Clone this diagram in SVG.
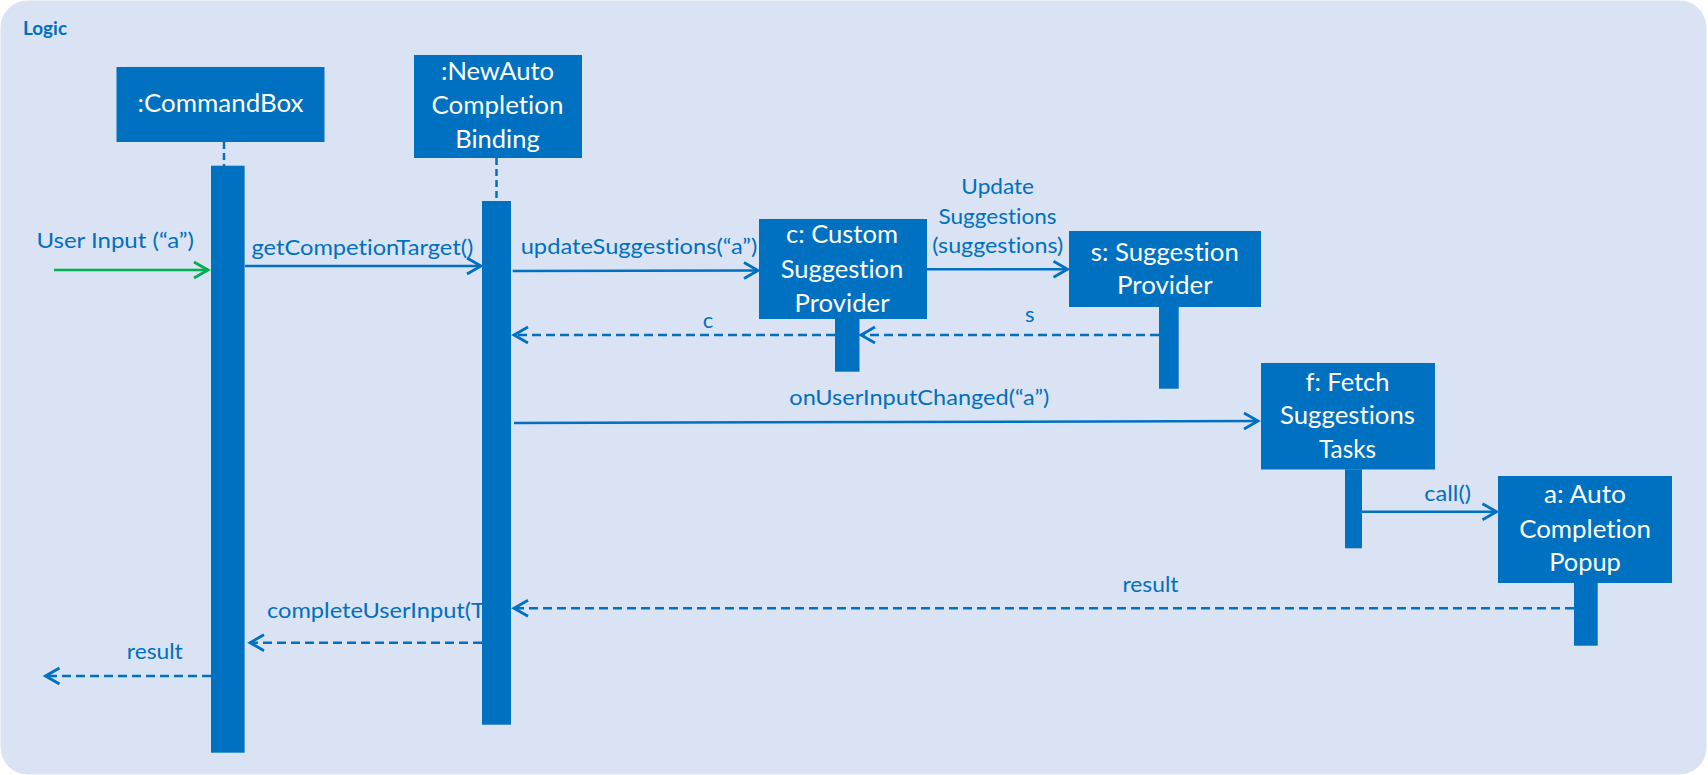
<svg xmlns="http://www.w3.org/2000/svg" width="1708" height="775" viewBox="0 0 1708 775">
<style>
text{font-variant-ligatures:none;font-feature-settings:"liga" 0,"clig" 0}
.node rect.box{fill:#0070C0}
.node rect.act{fill:#0070C0}
.node text{fill:#FFFFFF;font-family:Lato,"Open Sans",sans-serif;font-size:25.5px;text-anchor:middle}
.life{stroke:#0070C0;stroke-width:2.5;stroke-dasharray:7 4;fill:none}
.msg{stroke:#0070C0;stroke-width:2.5;fill:none}
.ret{stroke:#0070C0;stroke-width:2.5;fill:none;stroke-dasharray:9 5}
.lbl{fill:#0070C0;font-family:Lato,"Open Sans",sans-serif;font-size:22px}
.title{fill:#0070C0;font-family:Lato,"Open Sans",sans-serif;font-size:18px;font-weight:bold}
</style>
<defs>
<marker id="ah" markerUnits="userSpaceOnUse" markerWidth="20" markerHeight="20" viewBox="-16 -10 18 20" refX="0" refY="0" orient="auto">
<path d="M -14 -8 L 0 0 L -14 8" fill="none" stroke="#0070C0" stroke-width="2.8"/>
</marker>
<marker id="ahg" markerUnits="userSpaceOnUse" markerWidth="20" markerHeight="20" viewBox="-16 -10 18 20" refX="0" refY="0" orient="auto">
<path d="M -14 -8 L 0 0 L -14 8" fill="none" stroke="#00B050" stroke-width="2.8"/>
</marker>
</defs>
<rect x="0" y="0" width="1708" height="775" fill="#FFFFFF"/>
<rect x="0.5" y="0.5" width="1706" height="774" rx="27" ry="27" fill="#DAE3F3"/>
<text class="title" x="23" y="35" textLength="44" lengthAdjust="spacingAndGlyphs">Logic</text>

<g id="connectors">
<line x1="54" y1="270" x2="208" y2="270" stroke="#00B050" stroke-width="2.5" marker-end="url(#ahg)"/>
<text class="lbl" x="36.4" y="248" textLength="157.6" lengthAdjust="spacingAndGlyphs">User Input (“a”)</text>
<line class="msg" x1="245" y1="266" x2="481" y2="266" marker-end="url(#ah)"/>
<text class="lbl" x="251.4" y="255" textLength="222" lengthAdjust="spacingAndGlyphs">getCompetionTarget()</text>
<line class="msg" x1="512.7" y1="271" x2="758" y2="270.5" marker-end="url(#ah)"/>
<text class="lbl" x="520.7" y="254.3" textLength="236.6" lengthAdjust="spacingAndGlyphs">updateSuggestions(“a”)</text>
<line class="msg" x1="927" y1="269.3" x2="1067.5" y2="269.3" marker-end="url(#ah)"/>
<text class="lbl" x="997.7" y="194.3" text-anchor="middle" textLength="72.7" lengthAdjust="spacingAndGlyphs">Update</text>
<text class="lbl" x="997.5" y="224.3" text-anchor="middle" textLength="118" lengthAdjust="spacingAndGlyphs">Suggestions</text>
<text class="lbl" x="997.8" y="253.3" text-anchor="middle" textLength="131" lengthAdjust="spacingAndGlyphs">(suggestions)</text>
<line class="ret" x1="1159" y1="335" x2="861" y2="335" marker-end="url(#ah)"/>
<text class="lbl" x="1025" y="321.5">s</text>
<line class="ret" x1="835" y1="335" x2="514" y2="335" marker-end="url(#ah)"/>
<text class="lbl" x="702.7" y="327.7">c</text>
<line class="msg" x1="514" y1="423" x2="1258" y2="421" marker-end="url(#ah)"/>
<text class="lbl" x="789.3" y="405" textLength="260" lengthAdjust="spacingAndGlyphs">onUserInputChanged(“a”)</text>
<line class="msg" x1="1362" y1="511.7" x2="1496.5" y2="511.7" marker-end="url(#ah)"/>
<text class="lbl" x="1424.3" y="500.7" textLength="46.7" lengthAdjust="spacingAndGlyphs">call()</text>
<line class="ret" x1="1574" y1="608.3" x2="514" y2="608.3" marker-end="url(#ah)"/>
<text class="lbl" x="1122.5" y="591.7" textLength="56" lengthAdjust="spacingAndGlyphs">result</text>
<line class="ret" x1="482" y1="642.7" x2="250" y2="642.7" marker-end="url(#ah)"/>
<text class="lbl" x="267" y="618" textLength="218" lengthAdjust="spacingAndGlyphs">completeUserInput(T</text>
<line class="ret" x1="211" y1="676" x2="45.5" y2="676" marker-end="url(#ah)"/>
<text class="lbl" x="126.8" y="659" textLength="56" lengthAdjust="spacingAndGlyphs">result</text>
</g>

<g id="commandBox" class="node">
<rect class="box" x="116.5" y="67" width="208" height="75"/>
<text x="220.5" y="111.7" textLength="166" lengthAdjust="spacingAndGlyphs">:CommandBox</text>
<line class="life" x1="224" y1="142" x2="224" y2="166"/>
<rect class="act" x="211" y="165.7" width="33.6" height="587"/>
</g>

<g id="newAutoCompletionBinding" class="node">
<rect class="box" x="414" y="55" width="168" height="103"/>
<text x="497.5" y="80" textLength="113" lengthAdjust="spacingAndGlyphs">:NewAuto</text>
<text x="497.5" y="114" textLength="132" lengthAdjust="spacingAndGlyphs">Completion</text>
<text x="497.5" y="147.5" textLength="84.5" lengthAdjust="spacingAndGlyphs">Binding</text>
<line class="life" x1="496.5" y1="158" x2="496.5" y2="201"/>
<rect class="act" x="482" y="201" width="29" height="523.7"/>
</g>

<g id="customSuggestionProvider" class="node">
<rect class="box" x="759" y="219" width="168" height="100"/>
<text x="842" y="243.3" textLength="112" lengthAdjust="spacingAndGlyphs">c: Custom</text>
<text x="842" y="277.7" textLength="122.6" lengthAdjust="spacingAndGlyphs">Suggestion</text>
<text x="842" y="311.7" textLength="95" lengthAdjust="spacingAndGlyphs">Provider</text>
<rect class="act" x="835" y="318.7" width="24.5" height="53"/>
</g>

<g id="suggestionProvider" class="node">
<rect class="box" x="1069" y="231" width="192" height="76"/>
<text x="1164.8" y="260.5" textLength="148" lengthAdjust="spacingAndGlyphs">s: Suggestion</text>
<text x="1164.8" y="294.3" textLength="95.7" lengthAdjust="spacingAndGlyphs">Provider</text>
<rect class="act" x="1159" y="306.7" width="19.7" height="82"/>
</g>

<g id="fetchSuggestionsTasks" class="node">
<rect class="box" x="1261" y="363" width="174" height="106.5"/>
<text x="1347.5" y="390.7" textLength="84" lengthAdjust="spacingAndGlyphs">f: Fetch</text>
<text x="1347.5" y="424" textLength="135" lengthAdjust="spacingAndGlyphs">Suggestions</text>
<text x="1347.5" y="458.3" textLength="57" lengthAdjust="spacingAndGlyphs">Tasks</text>
<rect class="act" x="1345" y="469.3" width="17" height="79"/>
</g>

<g id="autoCompletionPopup" class="node">
<rect class="box" x="1498" y="476" width="174" height="107"/>
<text x="1585" y="503.3" textLength="82" lengthAdjust="spacingAndGlyphs">a: Auto</text>
<text x="1585" y="537.7" textLength="131.7" lengthAdjust="spacingAndGlyphs">Completion</text>
<text x="1585" y="571" textLength="71.7" lengthAdjust="spacingAndGlyphs">Popup</text>
<rect class="act" x="1574" y="582.7" width="23.7" height="63"/>
</g>
</svg>
